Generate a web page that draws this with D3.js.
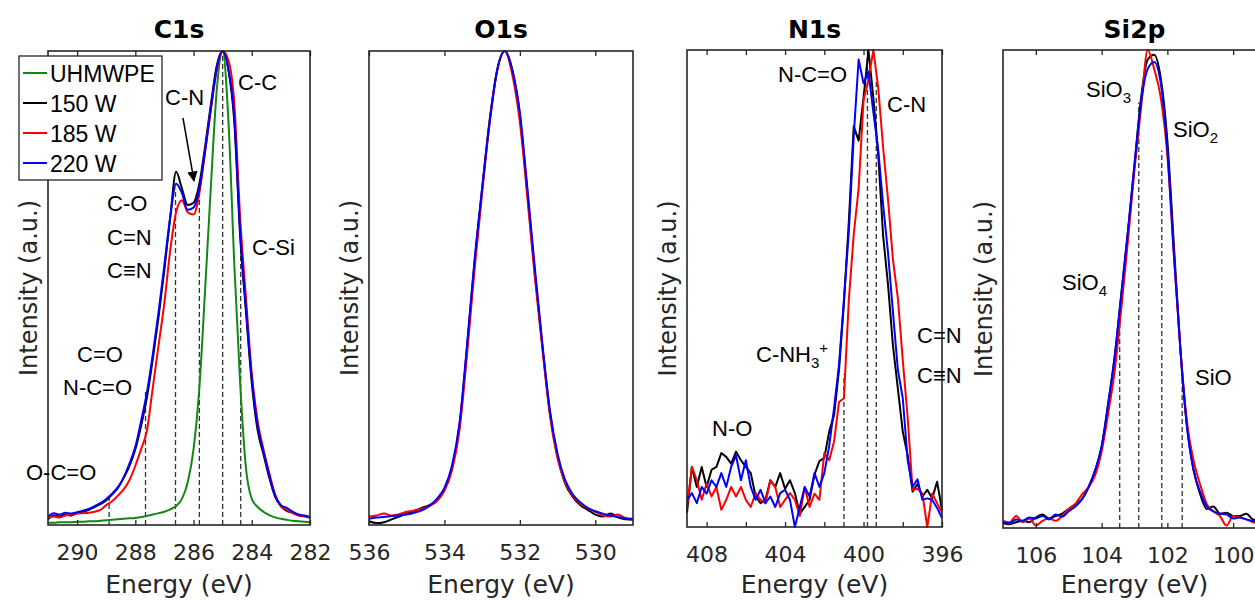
<!DOCTYPE html>
<html>
<head>
<meta charset="utf-8">
<script src="https://cdn.jsdelivr.net/npm/d3@7"></script>
<style>
  html, body { margin: 0; padding: 0; background: #fff; }
  svg { display: block; }
</style>
</head>
<body>
<svg id="chart" width="1255" height="601"></svg>
<script>
// ---------- series ----------
const seriesNames  = ["UHMWPE", "150 W", "185 W", "220 W"];
const seriesColors = ["#118811", "#000000", "#ff0000", "#0000ff"];

// ---------- C1s ----------
const c1sEnergy = [291.0,290.8,290.6,290.4,290.2,290.0,289.8,289.6,289.4,289.2,
                   289.0,288.8,288.6,288.4,288.2,288.0,287.8,287.6,287.4,287.2,
                   287.0,286.8,286.6,286.4,286.2,286.0,285.8,285.6,285.4,285.2,
                   285.0,284.8,284.6,284.4,284.2,284.0,283.8,283.6,283.4,283.2,
                   283.0,282.8,282.6,282.4,282.2,282.0];
const c1sUHMWPE = [0.005,0.005,0.006,0.006,0.006,0.007,0.007,0.008,0.008,0.009,
                   0.010,0.011,0.012,0.013,0.014,0.015,0.017,0.019,0.022,0.025,
                   0.028,0.033,0.040,0.055,0.090,0.160,0.290,0.500,0.720,0.920,
                   1.000,0.850,0.550,0.300,0.120,0.055,0.038,0.028,0.021,0.016,
                   0.013,0.011,0.009,0.008,0.007,0.006];
const c1s150W   = [0.012,0.020,0.018,0.022,0.020,0.025,0.028,0.032,0.038,0.044,
                   0.052,0.064,0.078,0.100,0.125,0.160,0.210,0.270,0.350,0.440,
                   0.540,0.650,0.745,0.710,0.675,0.680,0.720,0.800,0.890,0.970,
                   1.000,0.960,0.850,0.610,0.450,0.300,0.200,0.150,0.100,0.060,
                   0.040,0.030,0.026,0.021,0.019,0.016];
const c1s185W   = [0.015,0.018,0.016,0.020,0.022,0.024,0.025,0.026,0.028,0.032,
                   0.042,0.050,0.062,0.075,0.095,0.125,0.160,0.200,0.290,0.380,
                   0.470,0.580,0.660,0.685,0.660,0.655,0.700,0.790,0.880,0.960,
                   1.000,0.980,0.890,0.650,0.480,0.320,0.220,0.160,0.110,0.065,
                   0.040,0.032,0.025,0.020,0.018,0.015];
const c1s220W   = [0.018,0.025,0.022,0.026,0.024,0.027,0.030,0.034,0.040,0.046,
                   0.055,0.066,0.080,0.100,0.130,0.165,0.220,0.280,0.360,0.450,
                   0.550,0.650,0.720,0.700,0.665,0.670,0.710,0.790,0.880,0.965,
                   1.000,0.960,0.860,0.620,0.460,0.310,0.210,0.155,0.105,0.062,
                   0.042,0.036,0.028,0.022,0.020,0.017];
const c1sTicks = [290, 288, 286, 284, 282];
const c1sTickLabels = [290, 288, 286, 284, 282];
const c1sRefEnergy = [288.9, 287.65, 286.62, 285.8, 285.0, 284.38];
const c1sRefTop    = [0.068, 0.285, 0.71, 0.70, 1.0, 0.58];

// ---------- O1s ----------
const o1sEnergy = [536.0,535.8,535.6,535.4,535.2,535.0,534.8,534.6,534.4,534.2,
                   534.0,533.8,533.6,533.4,533.2,533.0,532.8,532.6,532.4,532.2,
                   532.0,531.8,531.6,531.4,531.2,531.0,530.8,530.6,530.4,530.2,
                   530.0,529.8,529.6,529.4,529.2,529.0];
const o1s150W = [0.008,0.004,0.006,0.012,0.018,0.024,0.030,0.036,0.042,0.052,
                 0.075,0.120,0.210,0.375,0.555,0.710,0.855,0.960,1.000,0.960,
                 0.865,0.700,0.530,0.375,0.235,0.145,0.088,0.060,0.042,0.032,
                 0.022,0.018,0.024,0.016,0.012,0.011];
const o1s185W = [0.018,0.020,0.024,0.020,0.023,0.028,0.030,0.034,0.040,0.050,
                 0.072,0.115,0.200,0.360,0.540,0.700,0.850,0.960,1.000,0.950,
                 0.850,0.690,0.520,0.370,0.230,0.140,0.090,0.062,0.045,0.035,
                 0.028,0.020,0.018,0.022,0.015,0.013];
const o1s220W = [0.013,0.016,0.017,0.019,0.020,0.022,0.026,0.031,0.040,0.055,
                 0.078,0.125,0.215,0.380,0.560,0.710,0.850,0.960,1.000,0.960,
                 0.870,0.710,0.540,0.380,0.240,0.150,0.095,0.065,0.048,0.036,
                 0.029,0.024,0.020,0.017,0.014,0.012];
const o1sTicks = [536, 534, 532, 530];
const o1sTickLabels = [536, 534, 532, 530];

// ---------- N1s ----------
const n1sEnergy = [409.00,408.75,408.50,408.25, 408.00,407.75,407.50,407.25,
                   407.00,406.75,406.50,406.25, 406.00,405.75,405.50,405.25,
                   405.00,404.75,404.50,404.25, 404.00,403.75,403.50,403.25,
                   403.00,402.75,402.50,402.25, 402.00,401.75,401.50,401.25,
                   401.00,400.75,400.50,400.25, 400.00,399.75,399.50,399.25,
                   399.00,398.75,398.50,398.25, 398.00,397.75,397.50,397.25,
                   397.00,396.75,396.50,396.25, 396.00];
const n1s150W = [0.030,0.126,0.084,0.126, 0.084,0.120,0.126,0.155,
                 0.147,0.133,0.158,0.140, 0.126,0.113,0.064,0.050,
                 0.057,0.098,0.084,0.113, 0.080,0.098,0.071,0.028,
                 0.042,0.057,0.110,0.138, 0.145,0.200,0.235,0.330,
                 0.470,0.640,0.840,0.810, 0.900,1.000,0.900,0.780,
                 0.610,0.507,0.380,0.290, 0.200,0.150,0.074,0.090,
                 0.064,0.078,0.060,0.095, 0.036];
const n1s185W = [0.042,0.126,0.098,0.057, 0.091,0.064,0.084,0.036,
                 0.057,0.084,0.064,0.084, 0.057,0.042,0.071,0.057,
                 0.050,0.098,0.084,0.042, 0.057,0.071,0.057,0.023,
                 0.084,0.042,0.070,0.057, 0.155,0.140,0.180,0.262,
                 0.270,0.476,0.613,0.710, 0.895,0.937,1.000,0.920,
                 0.795,0.686,0.560,0.480, 0.350,0.230,0.078,0.080,
                 0.070,0.000,0.070,0.050, 0.030];
const n1s220W = [0.057,0.071,0.050,0.084, 0.070,0.098,0.084,0.113,
                 0.084,0.126,0.150,0.098, 0.140,0.084,0.057,0.078,
                 0.050,0.064,0.042,0.071, 0.078,0.057,0.000,0.042,
                 0.084,0.064,0.113,0.084, 0.113,0.170,0.250,0.340,
                 0.476,0.620,0.820,0.980, 0.930,0.955,0.870,0.790,
                 0.675,0.574,0.450,0.330, 0.270,0.140,0.084,0.100,
                 0.057,0.060,0.057,0.040, 0.019];
const n1sTicks = [408, 406, 404, 402, 400, 398, 396];
const n1sTickLabels = [408, 404, 400, 396];
const n1sRefEnergy = [401.0, 399.8, 399.35];
const n1sRefTop    = [0.32, 1.0, 0.94];

// ---------- Si2p ----------
const si2pEnergy = [107.0,106.8,106.6,106.4,106.2, 106.0,105.8,105.6,105.4,105.2,
                    105.0,104.8,104.6,104.4,104.2, 104.0,103.8,103.6,103.4,103.2,
                    103.0,102.8,102.6,102.4,102.2, 102.0,101.8,101.6,101.4,101.2,
                    101.0,100.8,100.6,100.4,100.2, 100.0,99.8,99.6,99.4,99.2, 99.0];
const si2p150W = [0.010,0.008,0.012,0.015,0.012, 0.022,0.028,0.020,0.025,0.030,
                  0.040,0.050,0.060,0.085,0.120, 0.170,0.260,0.360,0.490,0.620,
                  0.760,0.900,0.980,0.990,0.940, 0.810,0.590,0.370,0.210,0.120,
                  0.070,0.040,0.045,0.030,0.032, 0.025,0.025,0.030,0.018,0.015, 0.012];
const si2p185W = [0.015,0.012,0.025,0.012,0.020, 0.005,0.015,0.020,0.015,0.025,
                  0.040,0.050,0.070,0.085,0.110, 0.160,0.240,0.330,0.460,0.600,
                  0.750,0.880,1.000,0.960,0.900, 0.780,0.570,0.370,0.220,0.140,
                  0.090,0.050,0.035,0.025,0.005, 0.025,0.022,0.018,0.012,0.010, 0.010];
const si2p220W = [0.012,0.010,0.018,0.015,0.022, 0.020,0.025,0.018,0.028,0.024,
                  0.035,0.045,0.060,0.085,0.120, 0.170,0.260,0.360,0.490,0.620,
                  0.760,0.890,0.960,0.975,0.930, 0.790,0.570,0.370,0.210,0.120,
                  0.075,0.045,0.035,0.030,0.028, 0.020,0.022,0.018,0.015,0.012, 0.012];
const si2pTicks = [106, 104, 102, 100];
const si2pTickLabels = [106, 104, 102, 100];
const si2pRefEnergy = [103.45, 102.87, 102.17, 101.55];
const si2pRefTop    = [0.47, 0.89, 0.79, 0.32];

// ---------- styling ----------
const ink = "#262626";
const axisFont = "'DejaVu Sans', sans-serif";
const noteFont = "'Liberation Sans', Arial, sans-serif";

const svg = d3.select("#chart");

const panels = [
  { title: "C1s", domain: [291, 282], box: {x0: 48, x1: 310, y0: 51, y1: 525},
    energy: c1sEnergy, series: [[0, c1sUHMWPE], [1, c1s150W], [2, c1s185W], [3, c1s220W]],
    ticks: c1sTicks, tickLabels: c1sTickLabels, refE: c1sRefEnergy, refTop: c1sRefTop,
    curve: d3.curveMonotoneX },
  { title: "O1s", domain: [536, 529], box: {x0: 369, x1: 633, y0: 51, y1: 525},
    energy: o1sEnergy, series: [[1, o1s150W], [2, o1s185W], [3, o1s220W]],
    ticks: o1sTicks, tickLabels: o1sTickLabels, refE: [], refTop: [],
    curve: d3.curveMonotoneX },
  { title: "N1s", domain: [409, 396], box: {x0: 687, x1: 942, y0: 50, y1: 527},
    energy: n1sEnergy, series: [[1, n1s150W], [2, n1s185W], [3, n1s220W]],
    ticks: n1sTicks, tickLabels: n1sTickLabels, refE: n1sRefEnergy, refTop: n1sRefTop,
    curve: d3.curveLinear },
  { title: "Si2p", domain: [107, 99], box: {x0: 1003, x1: 1266, y0: 50, y1: 528},
    energy: si2pEnergy, series: [[1, si2p150W], [2, si2p185W], [3, si2p220W]],
    ticks: si2pTicks, tickLabels: si2pTickLabels, refE: si2pRefEnergy, refTop: si2pRefTop,
    curve: d3.curveMonotoneX }
];

function styleAxis(a) {
  a.select(".domain").remove();
  a.selectAll(".tick line").attr("stroke", ink).attr("stroke-width", 1.3);
  a.selectAll(".tick text")
    .attr("font-family", axisFont).attr("font-size", 22).attr("fill", ink);
}

panels.forEach(p => {
  const b = p.box;
  const x = d3.scaleLinear().domain(p.domain).range([b.x0, b.x1]);
  const y = d3.scaleLinear().domain([0, 1]).range([b.y1, b.y0]);
  const g = svg.append("g");

  // reference peak positions
  g.selectAll("line.ref")
    .data(p.refE.map((e, i) => ({e, top: p.refTop[i]})))
    .join("line")
    .attr("class", "ref")
    .attr("x1", d => x(d.e)).attr("x2", d => x(d.e))
    .attr("y1", y(0)).attr("y2", d => y(d.top))
    .attr("stroke", "#333").attr("stroke-width", 1.3)
    .attr("stroke-dasharray", "5,3");

  // spectra
  p.series.forEach(([k, vals]) => {
    const line = d3.line()
      .x((d, i) => x(p.energy[i]))
      .y(d => y(d))
      .curve(p.curve);
    g.append("path")
      .attr("d", line(vals))
      .attr("fill", "none")
      .attr("stroke", seriesColors[k])
      .attr("stroke-width", 2)
      .attr("stroke-linejoin", "round");
  });

  // axes with inward ticks
  g.append("g").attr("transform", `translate(0,${b.y1})`)
    .call(d3.axisBottom(x).tickValues(p.ticks).tickSize(-5).tickPadding(19.5)
      .tickFormat(d => p.tickLabels.includes(d) ? d : ""))
    .call(styleAxis);
  g.append("g").attr("transform", `translate(0,${b.y0})`)
    .call(d3.axisTop(x).tickValues(p.ticks).tickSize(-5).tickFormat(""))
    .call(styleAxis);

  // frame
  g.append("rect")
    .attr("x", b.x0).attr("y", b.y0)
    .attr("width", b.x1 - b.x0).attr("height", b.y1 - b.y0)
    .attr("fill", "none").attr("stroke", ink).attr("stroke-width", 1.6);

  // title
  g.append("text")
    .attr("x", (b.x0 + b.x1) / 2).attr("y", 38)
    .attr("text-anchor", "middle")
    .attr("font-family", axisFont).attr("font-weight", "bold").attr("font-size", 25)
    .attr("fill", "#000").text(p.title);

  // axis titles
  g.append("text")
    .attr("x", (b.x0 + b.x1) / 2).attr("y", 593)
    .attr("text-anchor", "middle")
    .attr("font-family", axisFont).attr("font-size", 25).attr("fill", ink)
    .text("Energy (eV)");
  g.append("text")
    .attr("transform", `translate(${b.x0 - 11.5},${(b.y0 + b.y1) / 2}) rotate(-90)`)
    .attr("text-anchor", "middle")
    .attr("font-family", axisFont).attr("font-size", 24).attr("fill", ink)
    .text("Intensity (a.u.)");
});

// ---------- peak assignments ----------
const notes = [
  {t: "C-C", x: 238, y: 90},
  {t: "C-N", x: 165, y: 105},
  {t: "C-O", x: 107, y: 211},
  {t: "C=N", x: 107, y: 245},
  {t: "C\u2261N", x: 107, y: 278},
  {t: "C=O", x: 77, y: 362},
  {t: "N-C=O", x: 63, y: 395},
  {t: "O-C=O", x: 26, y: 480},
  {t: "C-Si", x: 252, y: 255},
  {t: "N-C=O", x: 778, y: 82},
  {t: "C-N", x: 887, y: 112},
  {t: "C=N", x: 917, y: 343},
  {t: "C\u2261N", x: 917, y: 383},
  {t: "C-NH", x: 756, y: 362, sub: "3", sup: "+"},
  {t: "N-O", x: 712, y: 436},
  {t: "SiO", x: 1086, y: 97, sub: "3"},
  {t: "SiO", x: 1173, y: 137, sub: "2"},
  {t: "SiO", x: 1062, y: 290, sub: "4"},
  {t: "SiO", x: 1195, y: 385}
];
notes.forEach(n => {
  const t = svg.append("text")
    .attr("x", n.x).attr("y", n.y)
    .attr("font-family", noteFont).attr("font-size", 22).attr("fill", "#000");
  t.append("tspan").text(n.t);
  if (n.sub) t.append("tspan").attr("dy", 6).attr("font-size", 15).text(n.sub);
  if (n.sup) t.append("tspan").attr("dy", -15).attr("font-size", 15).text(n.sup);
});

// arrow pointing to the C-N shoulder
svg.append("defs").append("marker")
  .attr("id", "head").attr("viewBox", "0 0 10 10")
  .attr("refX", 9).attr("refY", 5)
  .attr("markerWidth", 7).attr("markerHeight", 7)
  .attr("orient", "auto")
  .append("path").attr("d", "M0,0 L10,5 L0,10 Z").attr("fill", "#000");
svg.append("line")
  .attr("x1", 183).attr("y1", 118).attr("x2", 194).attr("y2", 181)
  .attr("stroke", "#000").attr("stroke-width", 1.5)
  .attr("marker-end", "url(#head)");

// ---------- legend ----------
const leg = svg.append("g");
leg.append("rect")
  .attr("x", 19).attr("y", 56).attr("width", 143).attr("height", 124)
  .attr("fill", "#fff").attr("stroke", ink).attr("stroke-width", 1.3);
seriesNames.forEach((name, i) => {
  const ry = 73 + i * 30;
  leg.append("line")
    .attr("x1", 23).attr("x2", 47).attr("y1", ry).attr("y2", ry)
    .attr("stroke", seriesColors[i]).attr("stroke-width", 2);
  leg.append("text")
    .attr("x", 50).attr("y", ry + 8.5)
    .attr("font-family", noteFont).attr("font-size", 23).attr("fill", "#000")
    .text(name);
});
</script>
</body>
</html>
